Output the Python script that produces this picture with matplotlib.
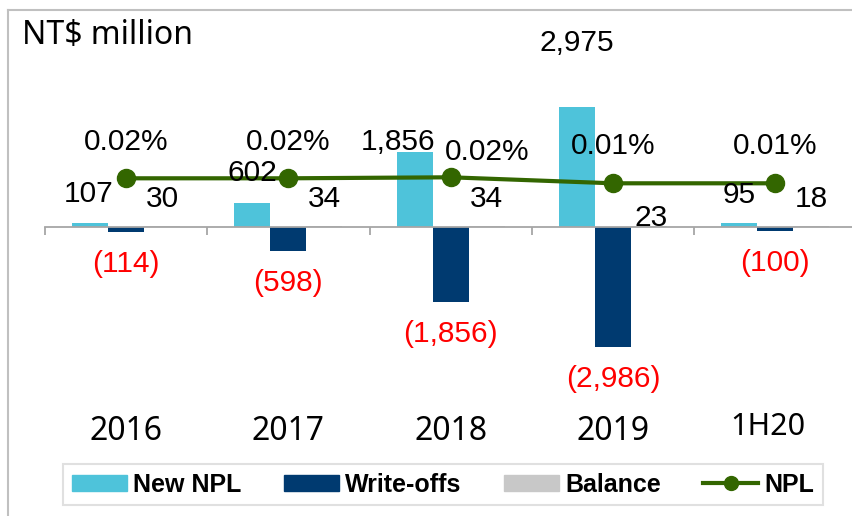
import matplotlib
matplotlib.use('Agg')
import matplotlib.pyplot as plt
import numpy as np
from matplotlib.lines import Line2D
from matplotlib.patches import Patch
import matplotlib.transforms as mtransforms

# Data
categories = ['2016', '2017', '2018', '2019', '1H20']
new_npl = [107, 602, 1856, 2975, 95]
write_offs = [-114, -598, -1856, -2986, -100]
balance = [30, 34, 34, 23, 18]
npl_ratio = [0.018, 0.018, 0.019, 0.013, 0.013]

# label offsets in pixels (dx, dy) from bar end / marker
new_off = [(-2, 29), (0, 30), (-17, 10), (0, 64), (0, 28)]
bal_off = [(0, 27), (0, 27), (0, 27), (2, 8), (0, 27)]
pct_off = [(0, 36), (0, 36), (37, 25), (0, 37), (0, 37)]

C_NEW = '#4EC3DA'
C_WO = '#003A70'
C_BAL = '#C8C8C8'
C_NPL = '#336600'
LBL = ['Liberation Sans', 'DejaVu Sans']
FS = 21.5

W, H = 853, 516
fig = plt.figure(figsize=(W / 100, H / 100), dpi=100)

ax_top, ax_bot, ax_left = 20, 400, 45
ax = fig.add_axes([ax_left / W, 1 - ax_bot / H, (W - ax_left) / W, (ax_bot - ax_top) / H])
upp = 2975 / 120.0
base = 227
ax.set_ylim(-(ax_bot - base) * upp, (base - ax_top) * upp)
ax.set_xlim(-0.5, -0.5 + (W - ax_left) / 162.25)

x = np.arange(len(categories))
bw = 36 / 162.25
ax.bar(x - bw, new_npl, bw, color=C_NEW, zorder=2)
ax.bar(x, write_offs, bw, color=C_WO, zorder=2)
ax.bar(x + bw, balance, bw, color=C_BAL, zorder=2)

for s in ['top', 'right', 'left']:
    ax.spines[s].set_visible(False)
ax.spines['bottom'].set_position(('data', 0))
ax.spines['bottom'].set_color('#A6A6A6')
ax.spines['bottom'].set_linewidth(1.3)
ax.set_yticks([])
ax.set_xticks([-0.5, 0.5, 1.5, 2.5, 3.5])
ax.tick_params(axis='x', direction='out', length=6, width=1.3, color='#A6A6A6', labelbottom=False)
ax.patch.set_visible(False)

# secondary axis for NPL ratio
ax2 = ax.twinx()
upp2 = 0.001
m0 = 178.3
ax2.set_ylim(npl_ratio[0] - (ax_bot - m0) * upp2, npl_ratio[0] + (m0 - ax_top) * upp2)
ax2.axis('off')
ax2.plot(x, npl_ratio, color=C_NPL, lw=3, marker='o', markersize=13, zorder=3)

# labels
for i in range(len(categories)):
    ax2.annotate(f'{new_npl[i]:,}', xy=(x[i] - bw, new_npl[i]), xycoords=ax.transData,
                 xytext=new_off[i], textcoords='offset pixels', ha='center', va='center',
                 fontsize=FS, family=LBL, color='black', zorder=5)
    ax2.annotate(f'{balance[i]:,}', xy=(x[i] + bw, balance[i]), xycoords=ax.transData,
                 xytext=bal_off[i], textcoords='offset pixels', ha='center', va='center',
                 fontsize=FS, family=LBL, color='black', zorder=5)
    ax2.annotate(f'({-write_offs[i]:,})', xy=(x[i], write_offs[i]), xycoords=ax.transData,
                 xytext=(0, -32), textcoords='offset pixels', ha='center', va='center',
                 fontsize=FS, family=LBL, color='#FF0000', zorder=5)
    ax2.annotate(f'{npl_ratio[i] :.2f}%', xy=(x[i], npl_ratio[i]),
                 xytext=pct_off[i], textcoords='offset pixels', ha='center', va='center',
                 fontsize=FS, family=LBL, color='black', zorder=5)

# category labels
trans = mtransforms.blended_transform_factory(ax.transData, fig.transFigure)
for i, c in enumerate(categories):
    if c == '1H20':
        ax.text(x[i] - 0.045, 1 - 427 / H, c, transform=trans, ha='center', va='center',
                fontsize=22, family=['Noto Sans', 'DejaVu Sans'])
    else:
        ax.text(x[i], 1 - 431 / H, c, transform=trans, ha='center', va='center',
                fontsize=23, family=['Noto Sans', 'DejaVu Sans'])

fig.text(22 / W, 1 - 36 / H, 'NT$ million', ha='left', va='center', fontsize=23,
         family=['Noto Sans', 'DejaVu Sans'])

# outer frame
fig.add_artist(Line2D([8 / W, 8 / W], [0, 1 - 10 / H], transform=fig.transFigure,
                      color='#C0C0C0', lw=1.5))
fig.add_artist(Line2D([8 / W, 1], [1 - 10 / H, 1 - 10 / H], transform=fig.transFigure,
                      color='#C0C0C0', lw=1.5))

# legend
handles = [Patch(color=C_NEW, label='New NPL'),
           Patch(color=C_WO, label='Write-offs'),
           Patch(color=C_BAL, label='Balance'),
           Line2D([0], [0], color=C_NPL, lw=3, marker='o', markersize=10, label='NPL')]
leg = fig.legend(handles=handles, loc='center', ncol=4,
                 bbox_to_anchor=(443 / W, 1 - 484.5 / H),
                 prop={'family': LBL, 'weight': 'bold', 'size': 18},
                 frameon=True, fancybox=False, edgecolor='#D9D9D9',
                 handlelength=2.2, handleheight=0.6, handletextpad=0.25,
                 columnspacing=1.7, borderpad=0.35, borderaxespad=0)
leg.get_frame().set_linewidth(1.5)

fig.savefig('out.png', dpi=100)
